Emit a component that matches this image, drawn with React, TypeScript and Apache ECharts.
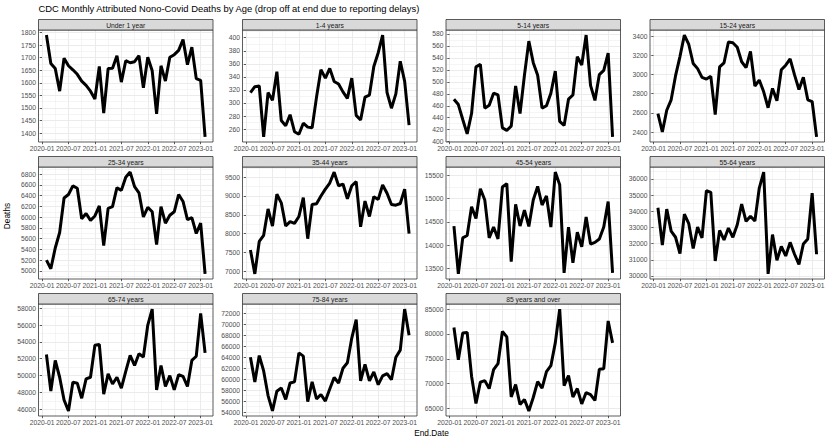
import React, { useEffect, useRef } from 'react';
import * as echarts from 'echarts';

const endDates = [
  '2020-01-31','2020-02-29','2020-03-31','2020-04-30','2020-05-31','2020-06-30','2020-07-31','2020-08-31','2020-09-30','2020-10-31','2020-11-30','2020-12-31',
  '2021-01-31','2021-02-28','2021-03-31','2021-04-30','2021-05-31','2021-06-30','2021-07-31','2021-08-31','2021-09-30','2021-10-31','2021-11-30','2021-12-31',
  '2022-01-31','2022-02-28','2022-03-31','2022-04-30','2022-05-31','2022-06-30','2022-07-31','2022-08-31','2022-09-30','2022-10-31','2022-11-30','2022-12-31',
  '2023-01-31',
];

const panelTitles = ['Under 1 year','1-4 years','5-14 years','15-24 years','25-34 years','35-44 years','45-54 years','55-64 years','65-74 years','75-84 years','85 years and over'];

const under1 = [1790,1677,1657,1567,1698,1668,1652,1634,1607,1590,1567,1536,1665,1480,1657,1658,1708,1603,1688,1680,1684,1708,1580,1702,1648,1477,1668,1607,1702,1712,1729,1772,1672,1742,1617,1610,1385];
const y1to4 = [316,325,326,248,316,304,348,273,265,282,256,252,269,263,262,309,351,338,353,333,329,317,307,338,281,274,309,312,356,377,404,316,292,314,364,333,266];
const y5to14 = [471,462,437,413,447,525,529,456,461,481,478,423,419,426,493,447,511,568,532,511,456,460,481,518,434,427,471,478,542,528,578,494,469,512,519,548,408];
const y15to24 = [2591,2400,2627,2736,2988,3187,3411,3313,3115,3061,2970,2952,2981,2581,3079,3122,3339,3331,3284,3133,3071,3241,2880,2942,2819,2653,2855,2725,3050,3097,3162,2996,2844,2970,2736,2718,2349];
const y25to34 = [5200,5039,5425,5714,6357,6421,6581,6537,5971,6067,5939,6022,6209,5470,6164,6196,6549,6498,6742,6839,6569,6453,6003,6183,6100,5489,6196,5887,6035,6100,6421,6292,5952,5990,5695,5887,4942];
const y35to44 = [7564,6927,7791,7955,8655,8200,9045,8818,8200,8318,8273,8455,8955,7864,8773,8791,9000,9182,9345,9636,9273,9318,8927,9273,9382,8182,8864,8455,8982,8909,9291,9073,8773,8755,8800,9182,8000];
const y45to54 = [14412,13383,14157,14208,14828,14573,15215,14974,14157,14390,14135,15252,15325,13646,14880,14412,14755,14405,14974,15266,14865,15062,14390,15573,15303,13405,14390,13624,14281,13967,14609,14025,14062,14135,14390,14938,13405];
const y55to64 = [34217,31909,34133,32769,32392,31385,33818,33231,31699,33021,32349,35266,35161,30923,32811,32224,32958,32392,33168,34447,33378,33692,33398,35434,36420,30126,32559,30965,31825,31237,32077,31342,30713,31972,32287,35119,31342];
const y65to74 = [52500,48150,51800,49800,47100,45800,49200,49100,47300,49600,49800,53600,53700,47800,50200,49000,49800,48500,50500,52400,51200,52600,52200,56000,57900,48300,51200,48700,50000,48300,50100,49900,48700,51800,52300,57400,52700];
const y75to84 = [64000,59500,64300,61500,57000,54200,57800,58400,56300,59300,59500,64800,64200,55900,59500,56400,57200,56000,58200,60300,59300,62000,63000,67500,70900,59700,62700,59700,61300,59000,60600,61000,59900,64000,65300,72800,68000];
const y85plus = [81300,74800,80200,80300,71500,66000,70300,70600,69000,72800,74000,80500,79400,67300,69800,65800,66800,64500,67200,70400,69100,72400,73600,78200,85000,69600,71600,67300,69000,65900,68200,67800,66600,72900,73000,82600,78200];

const seriesValues = [under1, y1to4, y5to14, y15to24, y25to34, y35to44, y45to54, y55to64, y65to74, y75to84, y85plus];
const yIntervals = [50, 20, 20, 200, 200, 500, 500, 1000, 2000, 2000, 5000];
const xTickLabels = ['2020-01','2020-07','2021-01','2021-07','2022-01','2022-07','2023-01'];

// layout
const FONT = '"Liberation Sans", Arial, Helvetica, sans-serif';
const colLeft = [38.5, 242.5, 446, 650];
const panelW = 174.5;
const stripTop = [19.5, 156.5, 293.5];
const stripH = 10.5;
const panelH = 112;
const TICK_FS = 6.75;

function monthIndex(s: string) {
  const [y, m] = s.split('-').map(Number);
  return (y - 2020) * 12 + (m - 1);
}
function dateToMonths(s: string) {
  const [y, m, d] = s.split('-').map(Number);
  const dim = new Date(y, m, 0).getDate();
  return (y - 2020) * 12 + (m - 1) + d / dim;
}

export default function App() {
  const ref = useRef<HTMLDivElement>(null);
  useEffect(() => {
    if (!ref.current) return;
    const chart = echarts.init(ref.current, undefined, { renderer: 'svg' });
    const xs = endDates.map(dateToMonths);
    const xMinD = Math.min(...xs), xMaxD = Math.max(...xs);
    const xr = xMaxD - xMinD;
    const xMin = xMinD - 0.05 * xr, xMax = xMaxD + 0.05 * xr;
    const xMajor = xTickLabels.map(monthIndex);
    const xMinor: number[] = [];
    for (let i = 0; i < xMajor.length - 1; i++) xMinor.push((xMajor[i] + xMajor[i + 1]) / 2);
    const xLabelMap: Record<string, string> = {};
    xTickLabels.forEach((l) => { xLabelMap[String(monthIndex(l))] = l; });

    const grids: any[] = [];
    const xAxes: any[] = [];
    const yAxes: any[] = [];
    const minorX: any[] = [];
    const minorY: any[] = [];
    const series: any[] = [];
    const graphics: any[] = [];

    seriesValues.forEach((vals, i) => {
      const col = i % 4, row = Math.floor(i / 4);
      const left = colLeft[col];
      const top = stripTop[row] + stripH;
      grids.push({ left, top, width: panelW, height: panelH, show: false, outerBoundsMode: 'none', containLabel: false });
      const vmin = Math.min(...vals), vmax = Math.max(...vals);
      const r = vmax - vmin;
      const yMin = vmin - 0.05 * r, yMax = vmax + 0.05 * r;
      const iv = yIntervals[i];
      const yMajor: number[] = [];
      for (let v = Math.ceil(yMin / iv) * iv; v <= yMax + 1e-9; v += iv) yMajor.push(v);
      const yMinor: number[] = [];
      if (yMajor[0] - iv / 2 >= yMin) yMinor.push(yMajor[0] - iv / 2);
      for (let k = 0; k < yMajor.length - 1; k++) yMinor.push(yMajor[k] + iv / 2);
      if (yMajor[yMajor.length - 1] + iv / 2 <= yMax) yMinor.push(yMajor[yMajor.length - 1] + iv / 2);

      xAxes.push({
        type: 'value', gridIndex: i, min: xMin, max: xMax,
        axisLine: { show: false },
        axisTick: { show: true, customValues: xMajor, length: 2.2, lineStyle: { color: '#333333', width: 0.8 } },
        axisLabel: { show: true, customValues: xMajor, hideOverlap: false, formatter: (v: number) => xLabelMap[String(Math.round(v))] || '', fontSize: TICK_FS, color: '#4D4D4D', margin: 2.5, fontFamily: FONT },
        splitLine: { show: true, lineStyle: { color: '#EBEBEB', width: 1 } },
      });
      yAxes.push({
        type: 'value', gridIndex: i, min: yMin, max: yMax,
        axisLine: { show: false },
        axisTick: { show: true, customValues: yMajor, length: 2.2, lineStyle: { color: '#333333', width: 0.8 } },
        axisLabel: { show: true, customValues: yMajor, hideOverlap: false, formatter: (v: number) => String(Math.round(v)), fontSize: TICK_FS, color: '#4D4D4D', margin: 2.5, fontFamily: FONT },
        splitLine: { show: true, lineStyle: { color: '#EBEBEB', width: 1 } },
      });
      minorX.push({
        type: 'value', gridIndex: i, min: xMin, max: xMax, position: 'top',
        axisLine: { show: false }, axisLabel: { show: false },
        axisTick: { show: false, customValues: xMinor },
        splitLine: { show: true, lineStyle: { color: '#EBEBEB', width: 0.5 } },
      });
      minorY.push({
        type: 'value', gridIndex: i, min: yMin, max: yMax, position: 'right',
        axisLine: { show: false }, axisLabel: { show: false },
        axisTick: { show: false, customValues: yMinor },
        splitLine: { show: true, lineStyle: { color: '#EBEBEB', width: 0.5 } },
      });
      series.push({
        type: 'line', xAxisIndex: i, yAxisIndex: i, symbol: 'none', z: 5,
        lineStyle: { color: '#000000', width: 3 },
        data: xs.map((x, k) => [x, vals[k]]),
      });
      graphics.push({
        type: 'rect', z: 10,
        shape: { x: left, y: top, width: panelW, height: panelH },
        style: { fill: 'none', stroke: '#333333', lineWidth: 0.8 },
      });
      graphics.push({
        type: 'rect', z: 10,
        shape: { x: left, y: stripTop[row], width: panelW, height: stripH },
        style: { fill: '#D9D9D9', stroke: '#333333', lineWidth: 0.8 },
      });
      graphics.push({
        type: 'text', z: 11,
        x: left + panelW / 2, y: stripTop[row] + stripH / 2 + 0.3,
        style: { text: panelTitles[i], fontSize: TICK_FS, fill: '#1A1A1A', fontFamily: FONT, align: 'center', verticalAlign: 'middle' },
      });
    });

    graphics.push({
      type: 'text', x: 38.5, y: 8.5,
      style: { text: 'CDC Monthly Attributed Nono-Covid Deaths by Age (drop off at end due to reporting delays)', fontSize: 9.4, fill: '#000000', fontFamily: FONT, align: 'left', verticalAlign: 'middle' },
    });
    graphics.push({
      type: 'text', x: 431.5, y: 432.5,
      style: { text: 'End.Date', fontSize: 8.3, fill: '#000000', fontFamily: FONT, align: 'center', verticalAlign: 'middle' },
    });
    graphics.push({
      type: 'text', x: 7, y: 216, rotation: Math.PI / 2,
      style: { text: 'Deaths', fontSize: 8.3, fill: '#000000', fontFamily: FONT, align: 'center', verticalAlign: 'middle' },
    });

    chart.setOption({
      animation: false,
      backgroundColor: '#FFFFFF',
      grid: grids,
      xAxis: [...xAxes, ...minorX],
      yAxis: [...yAxes, ...minorY],
      series,
      graphic: { elements: graphics },
    });
    return () => chart.dispose();
  }, []);
  return <div ref={ref} style={{ position: 'fixed', left: 0, top: 0, width: 829, height: 442 }} />;
}
